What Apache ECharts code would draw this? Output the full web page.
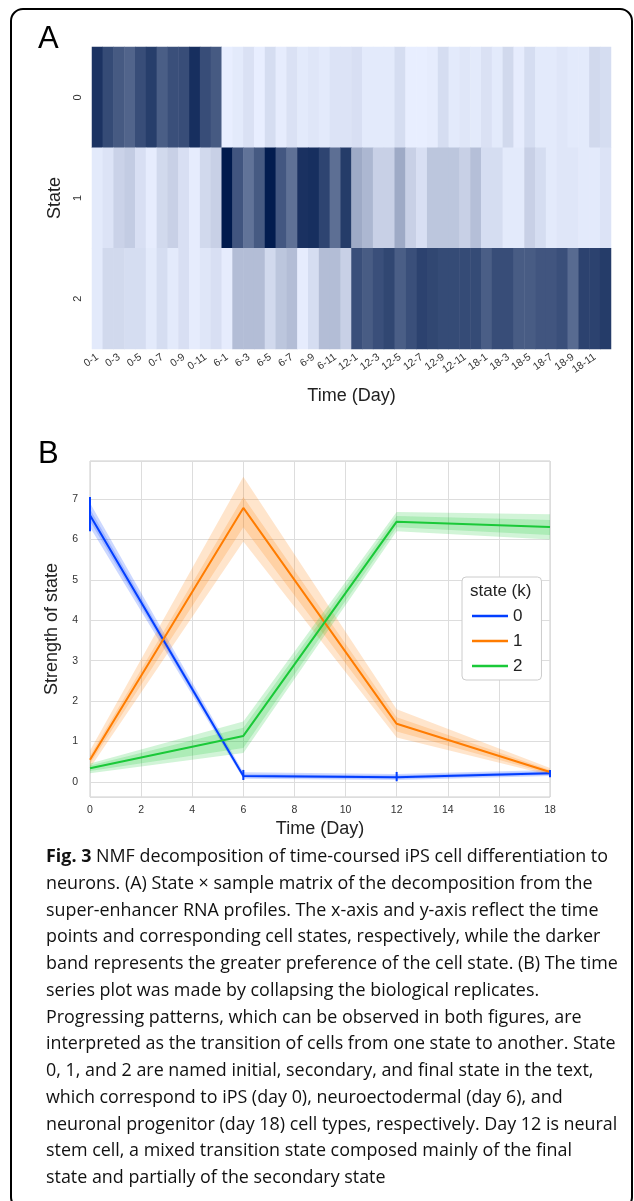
<!DOCTYPE html>
<html>
<head>
<meta charset="utf-8">
<script src="https://cdn.jsdelivr.net/npm/echarts@6/dist/echarts.min.js"></script>
<style>
  html, body { margin: 0; padding: 0; background: #fff; }
  #chart { width: 634px; height: 1201px; }
</style>
</head>
<body>
<div id="chart"></div>
<script>
// panel A: state x sample matrix
const samples = [
  '0-1','0-2','0-3','0-4','0-5','0-6','0-7','0-8','0-9','0-10','0-11','0-12',
  '6-1','6-2','6-3','6-4','6-5','6-6','6-7','6-8','6-9','6-10','6-11','6-12',
  '12-1','12-2','12-3','12-4','12-5','12-6','12-7','12-8','12-9','12-10','12-11','12-12',
  '18-1','18-2','18-3','18-4','18-5','18-6','18-7','18-8','18-9','18-10','18-11','18-12'
];
const states = ['0', '1', '2'];
const state0 = [
  0.88, 0.77, 0.70, 0.65, 0.76, 0.83, 0.68, 0.75, 0.76, 0.90, 0.76, 0.70,
  0.00, 0.02, 0.06, 0.00, 0.08, 0.01, 0.06, 0.02, 0.04, 0.02, 0.05, 0.05,
  0.07, 0.02, 0.02, 0.02, 0.08, 0.00, 0.00, 0.01, 0.08, 0.02, 0.04, 0.02,
  0.06, 0.02, 0.10, 0.01, 0.08, 0.02, 0.02, 0.04, 0.02, 0.02, 0.10, 0.08
];
const state1 = [
  0.02, 0.05, 0.13, 0.16, 0.07, 0.01, 0.10, 0.14, 0.07, 0.01, 0.10, 0.14,
  1.00, 0.72, 0.58, 0.70, 0.99, 0.71, 0.59, 0.89, 0.90, 0.80, 0.60, 0.84,
  0.32, 0.26, 0.14, 0.14, 0.32, 0.14, 0.07, 0.19, 0.19, 0.19, 0.14, 0.22,
  0.08, 0.08, 0.02, 0.02, 0.14, 0.08, 0.02, 0.04, 0.04, 0.02, 0.02, 0.05
];
const state2 = [
  0.02, 0.10, 0.10, 0.08, 0.08, 0.02, 0.08, 0.02, 0.07, 0.01, 0.04, 0.07,
  0.01, 0.23, 0.23, 0.23, 0.10, 0.19, 0.23, 0.01, 0.08, 0.23, 0.23, 0.14,
  0.75, 0.69, 0.75, 0.79, 0.68, 0.75, 0.81, 0.79, 0.77, 0.77, 0.77, 0.77,
  0.68, 0.76, 0.76, 0.69, 0.69, 0.72, 0.72, 0.75, 0.62, 0.81, 0.81, 0.84
];

// panel B: strength of each state over time
const days = [0, 6, 12, 18];
const mean0 = [6.60, 0.15, 0.12, 0.22];
const mean1 = [0.55, 6.78, 1.44, 0.25];
const mean2 = [0.34, 1.14, 6.44, 6.31];
const outerLo0 = [6.30, 0.08, 0.05, 0.15], outerHi0 = [6.90, 0.24, 0.20, 0.30];
const innerLo0 = [6.45, 0.11, 0.08, 0.18], innerHi0 = [6.75, 0.19, 0.16, 0.26];
const outerLo1 = [0.35, 5.95, 1.10, 0.17], outerHi1 = [0.78, 7.55, 1.80, 0.35];
const innerLo1 = [0.45, 6.30, 1.25, 0.20], innerHi1 = [0.65, 7.05, 1.60, 0.30];
const outerLo2 = [0.22, 0.72, 6.20, 6.00], outerHi2 = [0.46, 1.50, 6.68, 6.62];
const innerLo2 = [0.27, 0.84, 6.30, 6.11], innerHi2 = [0.41, 1.34, 6.58, 6.48];
const errLo0 = [6.20, 0.05, 0.02, 0.12], errHi0 = [7.05, 0.30, 0.25, 0.30];

const captionLines = [
  '{b|Fig. 3} NMF decomposition of time-coursed iPS cell differentiation to',
  'neurons. (A) State \u00d7 sample matrix of the decomposition from the',
  'super-enhancer RNA profiles. The x-axis and y-axis reflect the time',
  'points and corresponding cell states, respectively, while the darker',
  'band represents the greater preference of the cell state. (B) The time',
  'series plot was made by collapsing the biological replicates.',
  'Progressing patterns, which can be observed in both figures, are',
  'interpreted as the transition of cells from one state to another. State',
  '0, 1, and 2 are named initial, secondary, and final state in the text,',
  'which correspond to iPS (day 0), neuroectodermal (day 6), and',
  'neuronal progenitor (day 18) cell types, respectively. Day 12 is neural',
  'stem cell, a mixed transition state composed mainly of the final',
  'state and partially of the secondary state'
];

const colors = ['#023eff', '#ff7c00', '#1ac938'];

var myChart = echarts.init(document.getElementById('chart'));

const heatData = [];
[state0, state1, state2].forEach((row, s) => {
  row.forEach((v, c) => heatData.push([c, s, v]));
});

// shaded band as one polygon
function band(lo, hi, color, opacity) {
  return {
    type: 'custom',
    xAxisIndex: 1,
    yAxisIndex: 1,
    silent: true,
    z: 2,
    data: days.map((d, i) => [d, lo[i], hi[i]]),
    encode: { x: 0, y: [1, 2] },
    renderItem: function (params, api) {
      if (params.dataIndex !== 0) return;
      const pts = [];
      days.forEach((d, i) => pts.push(api.coord([d, hi[i]])));
      for (let i = days.length - 1; i >= 0; i--) pts.push(api.coord([days[i], lo[i]]));
      return {
        type: 'polygon',
        shape: { points: pts },
        style: { fill: color, opacity: opacity }
      };
    }
  };
}

function line(name, mean, color) {
  return {
    name: name,
    type: 'line',
    xAxisIndex: 1,
    yAxisIndex: 1,
    symbol: 'none',
    z: 5,
    data: days.map((d, i) => [d, mean[i]]),
    lineStyle: { color: color, width: 2 },
    itemStyle: { color: color }
  };
}

const captionGraphics = captionLines.map((t, i) => ({
  type: 'text',
  left: 46,
  top: 848 + i * 26.75,
  style: {
    text: t,
    fontFamily: 'Open Sans',
    fontSize: 17.9,
    fill: '#111',
    rich: { b: { fontFamily: 'Open Sans', fontSize: 17.9, fontWeight: 'bold', fill: '#111' } }
  }
}));

myChart.setOption({
  animation: false,
  textStyle: { fontFamily: 'Liberation Sans, Arial, sans-serif' },
  grid: [
    { left: 92, top: 47, width: 519, height: 302 },
    { left: 90, top: 461, width: 460, height: 336, show: true, borderColor: '#cccccc', borderWidth: 1 }
  ],
  xAxis: [
    {
      type: 'category',
      gridIndex: 0,
      data: samples,
      name: 'Time (Day)',
      nameLocation: 'middle',
      nameGap: 38,
      nameTextStyle: { fontSize: 18, color: '#222' },
      axisLine: { show: false },
      axisTick: { show: false },
      splitLine: { show: false },
      axisLabel: { interval: 1, rotate: 35, fontSize: 10.5, color: '#333', margin: 7 }
    },
    {
      type: 'value',
      gridIndex: 1,
      min: 0,
      max: 18,
      interval: 2,
      name: 'Time (Day)',
      nameLocation: 'middle',
      nameGap: 23,
      nameTextStyle: { fontSize: 18, color: '#222' },
      axisLine: { show: false },
      axisTick: { show: false },
      splitLine: { show: true, lineStyle: { color: '#dddddd', width: 1 } },
      axisLabel: { fontSize: 10.5, color: '#333', margin: 8 }
    }
  ],
  yAxis: [
    {
      type: 'category',
      gridIndex: 0,
      data: states,
      inverse: true,
      name: 'State',
      nameLocation: 'middle',
      nameGap: 24,
      nameTextStyle: { fontSize: 18, color: '#222' },
      axisLine: { show: false },
      axisTick: { show: false },
      splitLine: { show: false },
      axisLabel: { rotate: 90, fontSize: 11, color: '#333', margin: 9 }
    },
    {
      type: 'value',
      gridIndex: 1,
      min: -0.37,
      max: 7.94,
      splitNumber: 8,
      name: 'Strength of state',
      nameLocation: 'middle',
      nameGap: 21,
      nameTextStyle: { fontSize: 18, color: '#222' },
      axisLine: { show: false },
      axisTick: { show: false },
      splitLine: { show: true, lineStyle: { color: '#dddddd', width: 1 } },
      axisLabel: { fontSize: 10.5, color: '#333', margin: 12, showMinLabel: false, showMaxLabel: false }
    }
  ],
  visualMap: {
    type: 'continuous',
    show: false,
    seriesIndex: 0,
    min: 0,
    max: 1,
    inRange: { color: ['#e8eeff', '#001a4d'] }
  },
  legend: {
    data: ['0', '1', '2'],
    orient: 'vertical',
    left: 462,
    top: 577,
    padding: [30, 19, 5, 10],
    icon: 'rect',
    itemWidth: 36,
    itemHeight: 2.5,
    itemGap: 7,
    itemTextGap: 18,
    backgroundColor: '#fff',
    borderColor: '#cccccc',
    borderWidth: 1,
    borderRadius: 4,
    textStyle: { fontSize: 17, color: '#222', lineHeight: 18 }
  },
  graphic: [
    {
      type: 'rect',
      shape: { x: 11, y: 9, width: 621, height: 1200, r: 12 },
      style: { fill: 'none', stroke: '#000', lineWidth: 2 },
      z: 100
    },
    { type: 'text', left: 38, top: 24, style: { text: 'A', fontSize: 31, fontFamily: 'Liberation Sans', fill: '#000' } },
    { type: 'text', left: 38, top: 439, style: { text: 'B', fontSize: 31, fontFamily: 'Liberation Sans', fill: '#000' } },
    { type: 'text', left: 470, top: 583, z: 100, style: { text: 'state (k)', fontSize: 17, fontFamily: 'Liberation Sans', fill: '#222' } }
  ].concat(captionGraphics),
  series: [
    {
      type: 'heatmap',
      xAxisIndex: 0,
      yAxisIndex: 0,
      data: heatData
    },
    band(outerLo0, outerHi0, colors[0], 0.2),
    band(innerLo0, innerHi0, colors[0], 0.2),
    band(outerLo1, outerHi1, colors[1], 0.2),
    band(innerLo1, innerHi1, colors[1], 0.2),
    band(outerLo2, outerHi2, colors[2], 0.2),
    band(innerLo2, innerHi2, colors[2], 0.2),
    {
      type: 'custom',
      xAxisIndex: 1,
      yAxisIndex: 1,
      silent: true,
      z: 6,
      data: days.map((d, i) => [d, errLo0[i], errHi0[i]]),
      encode: { x: 0, y: [1, 2] },
      renderItem: function (params, api) {
        const a = api.coord([api.value(0), api.value(1)]);
        const b = api.coord([api.value(0), api.value(2)]);
        return {
          type: 'line',
          shape: { x1: a[0], y1: a[1], x2: b[0], y2: b[1] },
          style: { stroke: colors[0], lineWidth: 2 }
        };
      }
    },
    line('0', mean0, colors[0]),
    line('1', mean1, colors[1]),
    line('2', mean2, colors[2])
  ]
});
</script>
</body>
</html>
